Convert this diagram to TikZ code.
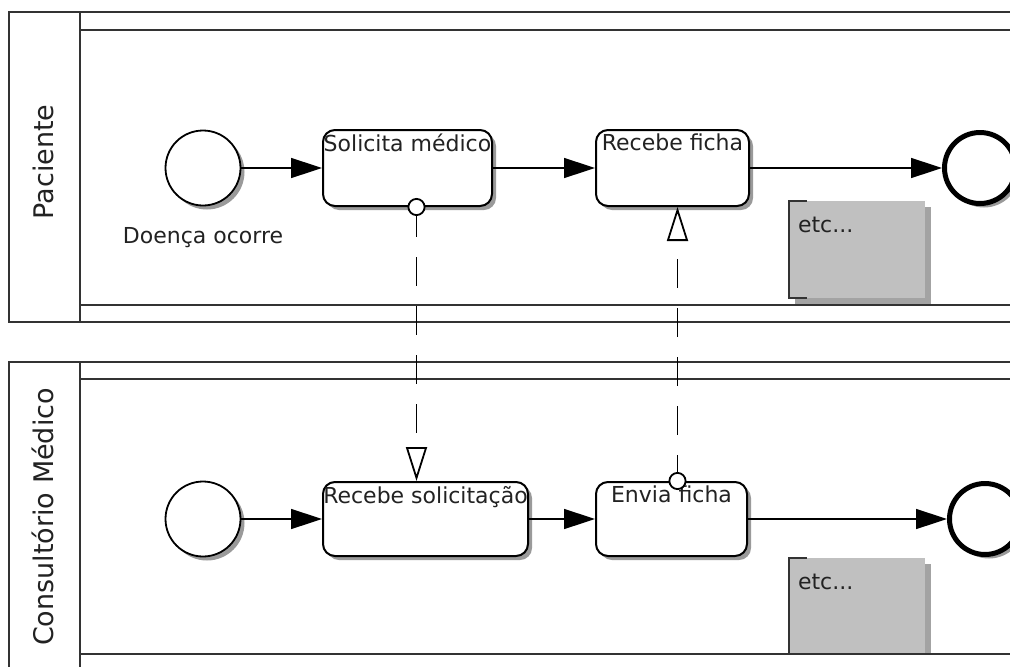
\documentclass[tikz,border=0pt]{standalone}
\usepackage{fontspec}
\setmainfont{DejaVu Sans}
\usetikzlibrary{arrows.meta,positioning,shadows}
\definecolor{lanegray}{HTML}{333333}
\definecolor{inkgray}{HTML}{222222}
\definecolor{notegray}{HTML}{C0C0C0}
\definecolor{noteshadow}{HTML}{A3A3A3}
\definecolor{castgray}{HTML}{9A9A9A}
\tikzset{line width=2pt,
  every node/.style={font=\fontsize{22}{26}\selectfont,text=inkgray},
  lane/.style={draw=lanegray,line width=2pt},
  castshadow/.style={drop shadow={shadow xshift=4pt,shadow yshift=-4pt,fill=castgray,opacity=1}},
  startev/.style={circle,draw,line width=1.8pt,fill=white,minimum size=75pt,inner sep=0pt,castshadow},
  endev/.style={circle,draw,line width=5pt,fill=white,minimum size=71pt,inner sep=0pt,castshadow},
  task/.style={rectangle,rounded corners=12pt,draw,line width=2pt,fill=white,inner sep=0pt,castshadow},
  tasklabel/.style={anchor=north,inner sep=5pt},
  seqflow/.style={-{Triangle[length=31pt,width=20pt]},line width=1.5pt},
  msgflow/.style={{Circle[length=18pt,fill=white]}-{Triangle[open,length=34pt,width=21pt,fill=white]},
    line width=1.8pt,dash pattern=on 29pt off 20pt,shorten <=-9pt},
  note/.style={rectangle,fill=notegray,inner sep=0pt,minimum width=136pt,
    drop shadow={shadow xshift=6pt,shadow yshift=-6pt,fill=noteshadow,opacity=1}},
  notelabel/.style={anchor=north west,inner xsep=9pt,inner ysep=16pt},
  bracket/.style={draw=lanegray,line width=1.8pt},
  poolname/.style={rotate=90,font=\fontsize{27}{30}\selectfont}}

\begin{document}
\begin{tikzpicture}[x=1pt,y=-1pt]
\clip (0,0) rectangle (1010,667);
\fill[white] (0,0) rectangle (1010,667);
% pools and lanes
\draw[lane] (9,12) rectangle (1040,322) (80,12)--(80,322) (80,30)--(1040,30) (80,305)--(1040,305);
\draw[lane] (9,362) rectangle (1040,700) (80,379)--(1040,379);
\node[poolname] (pac) at (43,162) {Paciente};
\node[poolname] (cons) at (43,517) {Consultório Médico};
% Paciente
\node[startev] (ini1) at (203,168) {};
\node[below=18pt of ini1] (doenca) {Doença ocorre};
\node[task,minimum width=169pt,minimum height=76pt,label={[tasklabel]north:Solicita médico}] (solicita) at (407.5,168) {};
\node[task,minimum width=153pt,minimum height=76pt,label={[tasklabel]north:Recebe ficha}] (recficha) at (672.5,168) {};
\node[endev] (fim1) at (980,168) {};
\node[note,minimum height=97pt,label={[notelabel]north west:etc...}] (nota1) at (857,249.5) {};
\draw[bracket] ([xshift=18pt]nota1.north west) -- (nota1.north west) -- (nota1.south west) -- ([xshift=18pt]nota1.south west);
\draw[seqflow] (ini1) -- (solicita);
\draw[seqflow] (solicita) -- (recficha);
\draw[seqflow] (recficha) -- (fim1);
% Consultorio Medico
\node[startev] (ini2) at (203,519) {};
\node[task,minimum width=205pt,minimum height=74pt,label={[tasklabel]north:Recebe solicitação}] (recsol) at (425.5,519) {};
\node[task,minimum width=151pt,minimum height=74pt,label={[tasklabel]north:Envia ficha}] (envia) at (671.5,519) {};
\node[endev] (fim2) at (985,519) {};
\node[note,minimum height=95pt,label={[notelabel]north west:etc...}] (nota2) at (857,605.5) {};
\draw[bracket] ([xshift=18pt]nota2.north west) -- (nota2.north west) -- (nota2.south west);
\fill[white] (82,655) rectangle (1040,700);
\draw[lane] (80,362)--(80,700) (80,654)--(1040,654);
\draw[seqflow] (ini2) -- (recsol);
\draw[seqflow] (recsol) -- (envia);
\draw[seqflow] (envia) -- (fim2);
% message flows
\draw[msgflow,dash phase=7pt] ([xshift=9pt]solicita.south) -- ([xshift=9pt]solicita.south |- recsol.north);
\draw[msgflow,dash phase=11pt] ([xshift=6pt]envia.north) -- ([xshift=6pt]envia.north |- recficha.south);
\end{tikzpicture}
\end{document}
